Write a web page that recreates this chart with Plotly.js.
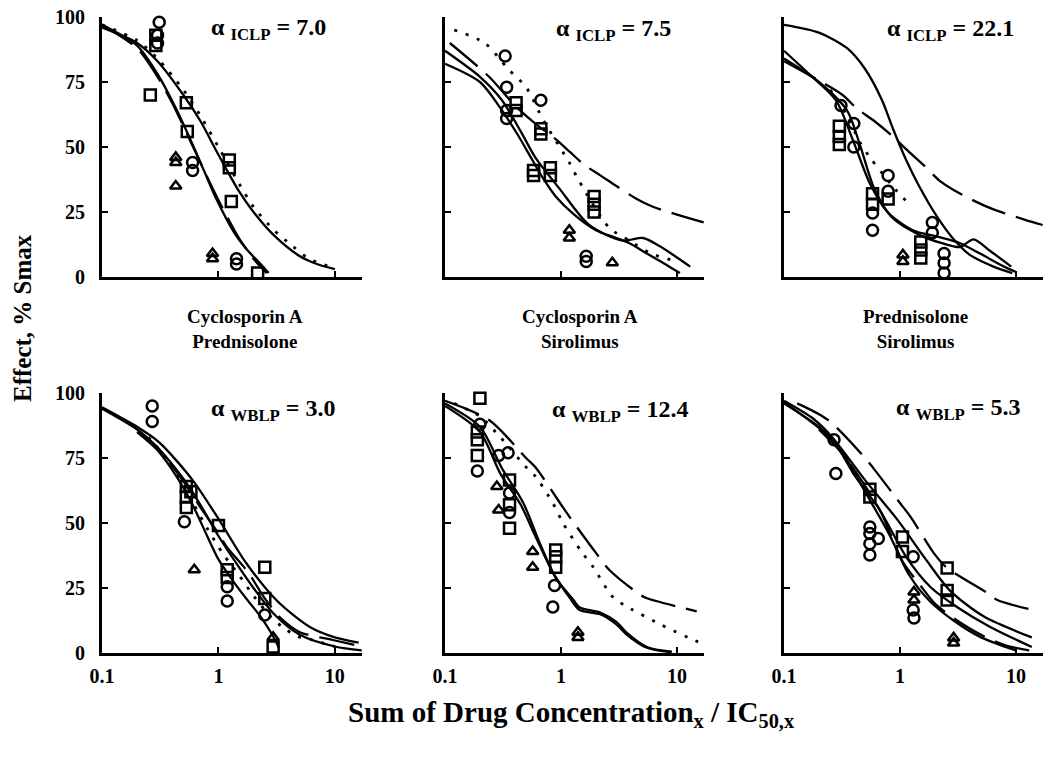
<!DOCTYPE html>
<html>
<head>
<meta charset="utf-8">
<script src="https://cdn.plot.ly/plotly-3.0.1.min.js"></script>
<style>html,body{margin:0;padding:0;background:#fff;}#chart{width:1050px;height:765px;}</style>
</head>
<body>
<div id="chart"></div>
<script>
// ---------------- DATA ----------------
const xTickVals = [0.1, 1, 10];
const xTickText = ['0.1', '1', '10'];
const yTickVals = [0, 25, 50, 75, 100];
const yTickText = ['0', '25', '50', '75', '100'];
const pairLabels = [['Cyclosporin A', 'Prednisolone'], ['Cyclosporin A', 'Sirolimus'], ['Prednisolone', 'Sirolimus']];
const alphaSub = ['ICLP', 'ICLP', 'ICLP', 'WBLP', 'WBLP', 'WBLP'];
const alphaVal = ['7.0', '7.5', '22.1', '3.0', '12.4', '5.3'];
const yTitle = 'Effect, % Smax';

// Panel 1: Cyclosporin A + Prednisolone, ICLP
const p1_solidA_x = [0.1, 0.2, 0.3, 0.5, 0.7, 1, 1.5, 2, 3, 5, 7, 10];
const p1_solidA_y = [96, 90, 83, 70, 60, 47, 33, 25, 16, 8, 5, 3];
const p1_dot_x = [0.1, 0.2, 0.3, 0.5, 0.7, 1, 1.5, 2, 3, 4.3, 6, 9];
const p1_dot_y = [97, 91, 84, 72, 62, 50, 36, 27, 18, 12, 7, 4];
const p1_solidB_x = [0.1, 0.2, 0.31, 0.43, 0.6, 0.75, 0.96, 1.37, 1.8, 2.3, 2.7];
const p1_solidB_y = [97, 89, 77, 65, 51, 41, 30, 17, 10, 5, 1.5];
const p1_dash_x = [0.1, 0.2, 0.3, 0.4, 0.55, 0.7, 0.85, 1.1, 1.5, 2, 2.6];
const p1_dash_y = [97, 88, 77, 67, 54, 44, 36, 26, 15, 7, 1.5];
const p1_circ_x = [0.31, 0.3, 0.3, 0.6, 0.6, 1.43, 1.43];
const p1_circ_y = [98, 93, 90, 44, 41, 7, 5];
const p1_sq_x = [0.29, 0.29, 0.26, 0.53, 0.54, 1.24, 1.24, 1.29, 2.17];
const p1_sq_y = [93, 89, 70, 67, 56, 45, 42, 29, 1.5];
const p1_tri_x = [0.43, 0.43, 0.43, 0.89, 0.89];
const p1_tri_y = [46, 44, 35, 9, 7];

// Panel 2: Cyclosporin A + Sirolimus, ICLP
const p2_solidA_x = [0.1, 0.2, 0.31, 0.45, 0.6, 0.97, 1.75, 3.4, 5.1, 7, 10, 13];
const p2_solidA_y = [87, 77, 68, 56, 46, 34, 20, 14, 15, 12, 7.5, 4];
const p2_solidB_x = [0.1, 0.2, 0.3, 0.42, 0.55, 0.7, 0.9, 1.3, 2, 3, 3.9, 5.5, 7.6, 10.6];
const p2_solidB_y = [82, 75, 65, 55, 46, 38, 31, 24, 18, 15, 13, 9, 5.4, 1.5];
const p2_dash_x = [0.11, 0.24, 0.4, 0.6, 0.9, 1.2, 1.6, 2.2, 3, 4.5, 6.2, 10, 17];
const p2_dash_y = [90, 77, 66, 59, 53, 48, 43, 39, 35, 30, 27, 24, 21];
const p2_dot_x = [0.12, 0.22, 0.35, 0.5, 0.71, 1.18, 1.43, 2.6, 3.9, 6, 10];
const p2_dot_y = [95, 90, 80, 73, 60, 44, 37, 19, 14, 9, 6];
const p2_circ_x = [0.33, 0.34, 0.34, 0.34, 0.67, 1.65, 1.65];
const p2_circ_y = [85, 73, 64, 61, 68, 8, 6];
const p2_sq_x = [0.41, 0.41, 0.67, 0.67, 0.58, 0.58, 0.81, 0.81, 1.93, 1.93, 1.93];
const p2_sq_y = [67, 64, 57, 55, 41, 39, 42, 39, 31, 28, 25];
const p2_tri_x = [1.18, 1.18, 2.77];
const p2_tri_y = [18, 15, 5.5];

// Panel 3: Prednisolone + Sirolimus, ICLP
const p3_solidA_x = [0.1, 0.2, 0.35, 0.5, 0.7, 0.87, 1.13, 1.46, 2.1, 2.9, 4, 6.4, 9.3];
const p3_solidA_y = [97, 94, 88, 80, 68, 57, 45, 35, 23, 14.5, 8.5, 4, 1.5];
const p3_solidB_x = [0.1, 0.165, 0.28, 0.39, 0.55, 0.78, 1.29, 2.1, 3.3, 4.9, 7.9, 9.9];
const p3_solidB_y = [87, 78, 68, 53, 36, 25, 18, 15.5, 13, 9, 4, 2];
const p3_solidC_x = [0.1, 0.2, 0.35, 0.45, 0.6, 0.85, 1.5, 2.3, 3.3, 4.3, 6, 9.1];
const p3_solidC_y = [84, 75, 64, 51, 34, 23, 16, 13, 11.5, 14.5, 10, 4];
const p3_dash_x = [0.1, 0.16, 0.32, 0.42, 0.6, 0.87, 1.14, 1.6, 2.2, 2.9, 4.5, 6.4, 7.9, 12, 17];
const p3_dash_y = [83, 78, 70, 65, 60, 54, 49, 43, 37, 33.5, 29, 26, 24.6, 22, 20];
const p3_dot_x = [0.25, 0.35, 0.45, 0.55, 0.7, 0.9, 1.2];
const p3_dot_y = [72, 62, 52, 46, 40, 34, 28];
const p3_circ_x = [0.31, 0.4, 0.4, 0.79, 0.79, 0.58, 0.58, 1.9, 1.9, 2.4, 2.4, 2.4];
const p3_circ_y = [66, 59, 50, 39, 33, 24.6, 18, 21, 17, 9, 5.4, 1.5];
const p3_sq_x = [0.3, 0.3, 0.3, 0.79, 0.58, 0.58, 1.51, 1.51, 1.51];
const p3_sq_y = [58, 54, 51, 30, 32, 28, 13.5, 10.4, 7.3];
const p3_tri_x = [1.06, 1.06];
const p3_tri_y = [8.5, 6];

// Panel 4: Cyclosporin A + Prednisolone, WBLP
const p4_solidA_x = [0.1, 0.2, 0.31, 0.6, 1.02, 1.73, 3.2, 6.1, 10, 16];
const p4_solidA_y = [94.5, 87, 81, 66.5, 51, 34.6, 20, 10, 6, 4];
const p4_solidB_x = [0.1, 0.2, 0.3, 0.5, 0.7, 1, 1.5, 2, 3, 5, 10, 17];
const p4_solidB_y = [94, 86, 79, 67, 57, 45, 33, 25, 15, 7, 2.5, 1];
const p4_solidC_x = [0.2, 0.3, 0.45, 0.6, 0.8, 1, 1.37, 1.8, 2.3, 2.9, 3.3];
const p4_solidC_y = [85, 78, 67, 57, 45, 36, 27, 20, 14, 7, 2];
const p4_dash_x = [0.2, 0.3, 0.5, 0.7, 1, 1.17, 1.8, 2.5, 3.5, 5, 9.6, 15];
const p4_dash_y = [86, 79, 66, 56, 46, 41, 31, 21, 13, 8, 5, 3];
const p4_dot_x = [0.25, 0.4, 0.6, 0.8, 1.1, 1.5, 2, 2.8, 3.55, 4.7, 6.4, 10];
const p4_dot_y = [83, 72, 58, 48, 38, 30, 22, 14, 10, 6.5, 5, 2.5];
const p4_circ_x = [0.27, 0.27, 0.51, 1.19, 1.19, 2.5];
const p4_circ_y = [95, 89, 50.5, 25.5, 20, 14.6];
const p4_sq_x = [0.53, 0.53, 0.53, 0.58, 1.0, 1.19, 1.19, 2.5, 2.5, 2.95];
const p4_sq_y = [64, 60, 56, 62, 49, 32, 29, 33, 21, 2.3];
const p4_tri_x = [0.62, 2.95];
const p4_tri_y = [32, 6];

// Panel 5: Cyclosporin A + Sirolimus, WBLP
const p5_solidA_x = [0.1, 0.2, 0.31, 0.47, 0.66, 0.9, 1.28, 1.45, 2.2, 3, 3.7, 5.5, 9];
const p5_solidA_y = [96, 87, 71, 58, 42, 29, 20.4, 17.5, 15.5, 12, 7.7, 2.3, 0.5];
const p5_solidB_x = [0.1, 0.2, 0.3, 0.45, 0.6, 0.85, 1.2, 1.45, 2.2, 3, 3.7, 5.5, 9];
const p5_solidB_y = [95, 85, 69, 57, 45, 31, 21, 16.5, 14.8, 11, 7, 2, 0.3];
const p5_dash_x = [0.1, 0.24, 0.5, 0.6, 1.04, 1.2, 2, 2.6, 5.2, 6.6, 14.8];
const p5_dash_y = [97, 89.6, 75, 71.5, 56, 52, 38.5, 32, 21.5, 20, 16];
const p5_dot_x = [0.12, 0.2, 0.3, 0.5, 0.6, 0.85, 1.04, 1.5, 1.9, 2.8, 4, 7.2, 9.4, 12.7, 17.8];
const p5_dot_y = [96, 91, 83, 71.5, 68, 57.7, 50, 39, 33, 21.5, 17, 11, 8.5, 5.8, 3];
const p5_circ_x = [0.2, 0.19, 0.29, 0.35, 0.36, 0.36, 0.88, 0.85];
const p5_circ_y = [88, 70, 76, 77, 61.5, 54, 26, 17.7];
const p5_sq_x = [0.2, 0.19, 0.19, 0.19, 0.36, 0.36, 0.36, 0.9, 0.9, 0.9];
const p5_sq_y = [98, 85, 82, 76, 66.5, 57, 48, 39.6, 37, 33];
const p5_tri_x = [0.28, 0.29, 0.57, 0.57, 1.4, 1.4];
const p5_tri_y = [64, 55, 39, 33, 8, 6];

// Panel 6: Prednisolone + Sirolimus, WBLP
const p6_solidA_x = [0.1, 0.18, 0.26, 0.5, 0.96, 1.67, 2.7, 5.3, 13.7];
const p6_solidA_y = [97, 90, 83, 66.5, 51, 36, 24, 14, 6];
const p6_solidB_x = [0.1, 0.26, 0.41, 0.67, 1.13, 1.83, 3.1, 6, 13.7];
const p6_solidB_y = [96.5, 82, 68, 55, 37, 25.4, 17.7, 10, 2.3];
const p6_solidC_x = [0.1, 0.2, 0.3, 0.5, 0.8, 1.2, 1.8, 3, 5, 10];
const p6_solidC_y = [96, 87, 79, 62, 46, 30, 20, 12, 6, 1];
const p6_dashA_x = [0.13, 0.24, 0.5, 0.58, 1, 1.25, 1.95, 2.5, 5.7, 6.9, 15.6];
const p6_dashA_y = [96, 89.6, 75, 71.5, 57.7, 52, 38.5, 33, 23, 20.4, 16];
const p6_dashB_x = [0.2, 0.3, 0.41, 0.67, 1.06, 1.5, 2, 3, 5, 8, 13];
const p6_dashB_y = [86, 78, 70, 55, 35, 26, 19, 13, 7, 3, 1];
const p6_circ_x = [0.27, 0.28, 0.55, 0.55, 0.55, 0.55, 0.65, 1.3, 1.3, 1.32];
const p6_circ_y = [82, 69, 48.5, 46, 42, 37.7, 44, 37, 16.5, 13.5];
const p6_sq_x = [0.55, 0.55, 1.05, 1.05, 2.55, 2.55, 2.55];
const p6_sq_y = [63, 60, 44.6, 39, 32.7, 24, 20.4];
const p6_tri_x = [1.32, 1.32, 2.9, 2.9];
const p6_tri_y = [23.5, 20.4, 5.8, 3.8];

// ---------------- STYLE ----------------
const FONT = 'Liberation Serif';
const W = 1050, H = 765;
const STYLE = {
  solid: {dash: 'solid', width: 2.3},
  dash: {dash: '36px,11px', width: 2.3},
  dot: {dash: '3px,9px', width: 2.8}
};
const SYM = {circ: 'circle-open', sq: 'square-open', tri: 'triangle-up-open'};

// pixel -> paper helpers (layout only)
const px = v => v / W;
const py = v => 1 - v / H;
const colPx = [[102, 362], [445, 704], [784, 1043]];
const rowPx = [[17, 277], [393, 653]];

const panels = [
  {lines: [[p1_solidA_x, p1_solidA_y, 'solid'], [p1_dot_x, p1_dot_y, 'dot'], [p1_solidB_x, p1_solidB_y, 'solid'], [p1_dash_x, p1_dash_y, 'dash']],
   marks: [[p1_circ_x, p1_circ_y, 'circ'], [p1_sq_x, p1_sq_y, 'sq'], [p1_tri_x, p1_tri_y, 'tri']]},
  {lines: [[p2_solidA_x, p2_solidA_y, 'solid'], [p2_solidB_x, p2_solidB_y, 'solid'], [p2_dash_x, p2_dash_y, 'dash'], [p2_dot_x, p2_dot_y, 'dot']],
   marks: [[p2_circ_x, p2_circ_y, 'circ'], [p2_sq_x, p2_sq_y, 'sq'], [p2_tri_x, p2_tri_y, 'tri']]},
  {lines: [[p3_solidA_x, p3_solidA_y, 'solid'], [p3_solidB_x, p3_solidB_y, 'solid'], [p3_solidC_x, p3_solidC_y, 'solid'], [p3_dash_x, p3_dash_y, 'dash'], [p3_dot_x, p3_dot_y, 'dot']],
   marks: [[p3_circ_x, p3_circ_y, 'circ'], [p3_sq_x, p3_sq_y, 'sq'], [p3_tri_x, p3_tri_y, 'tri']]},
  {lines: [[p4_solidA_x, p4_solidA_y, 'solid'], [p4_solidB_x, p4_solidB_y, 'solid'], [p4_solidC_x, p4_solidC_y, 'solid'], [p4_dash_x, p4_dash_y, 'dash'], [p4_dot_x, p4_dot_y, 'dot']],
   marks: [[p4_circ_x, p4_circ_y, 'circ'], [p4_sq_x, p4_sq_y, 'sq'], [p4_tri_x, p4_tri_y, 'tri']]},
  {lines: [[p5_solidA_x, p5_solidA_y, 'solid'], [p5_solidB_x, p5_solidB_y, 'solid'], [p5_dash_x, p5_dash_y, 'dash'], [p5_dot_x, p5_dot_y, 'dot']],
   marks: [[p5_circ_x, p5_circ_y, 'circ'], [p5_sq_x, p5_sq_y, 'sq'], [p5_tri_x, p5_tri_y, 'tri']]},
  {lines: [[p6_solidA_x, p6_solidA_y, 'solid'], [p6_solidB_x, p6_solidB_y, 'solid'], [p6_solidC_x, p6_solidC_y, 'solid'], [p6_dashA_x, p6_dashA_y, 'dash'], [p6_dashB_x, p6_dashB_y, 'dash']],
   marks: [[p6_circ_x, p6_circ_y, 'circ'], [p6_sq_x, p6_sq_y, 'sq'], [p6_tri_x, p6_tri_y, 'tri']]}
];

const traces = [];
const layout = {
  width: W, height: H,
  margin: {l: 0, r: 0, t: 0, b: 0},
  paper_bgcolor: '#fff', plot_bgcolor: 'rgba(0,0,0,0)',
  showlegend: false,
  font: {family: FONT, color: '#000'},
  annotations: []
};

panels.forEach((p, i) => {
  const n = i + 1;
  const suf = n === 1 ? '' : String(n);
  const row = i < 3 ? 0 : 1;
  const col = i % 3;
  p.lines.forEach(([xs, ys, st]) => {
    traces.push({
      type: 'scatter', mode: 'lines', x: xs, y: ys,
      xaxis: 'x' + suf, yaxis: 'y' + suf, hoverinfo: 'skip',
      line: {color: '#000', width: STYLE[st].width, dash: STYLE[st].dash, shape: 'spline', smoothing: 0.8}
    });
  });
  p.marks.forEach(([xs, ys, s]) => {
    traces.push({
      type: 'scatter', mode: 'markers', x: xs, y: ys,
      xaxis: 'x' + suf, yaxis: 'y' + suf, hoverinfo: 'skip', cliponaxis: false,
      marker: {symbol: SYM[s], size: s === 'tri' ? 10 : 11, color: '#000', line: {width: 2.5, color: '#000'}}
    });
  });
  layout['xaxis' + suf] = {
    type: 'log', range: [-1, 1.233],
    domain: [px(colPx[col][0]), px(colPx[col][1])],
    anchor: 'y' + suf,
    showline: true, linewidth: 3, linecolor: '#000', mirror: false,
    showgrid: false, zeroline: false,
    ticks: 'inside', ticklen: 6, tickwidth: 2, tickcolor: '#000',
    tickvals: xTickVals, ticktext: xTickText,
    showticklabels: row === 1,
    ticklabelstandoff: 3,
    tickfont: {family: FONT, size: 20, weight: 'bold', color: '#000'}
  };
  layout['yaxis' + suf] = {
    range: [0, 100],
    domain: [py(rowPx[row][1]), py(rowPx[row][0])],
    anchor: 'x' + suf,
    showline: true, linewidth: 3, linecolor: '#000',
    showgrid: false, zeroline: false,
    ticks: 'inside', ticklen: 6, tickwidth: 2, tickcolor: '#000',
    tickvals: yTickVals, ticktext: yTickText,
    showticklabels: col === 0,
    ticklabelstandoff: 10,
    tickfont: {family: FONT, size: 20, weight: 'bold', color: '#000'}
  };
});

// alpha annotations
const alphaPos = [[268, 29], [613, 30], [950, 30], [273, 410], [620, 411], [958, 409]];
alphaVal.forEach((v, i) => {
  layout.annotations.push({
    xref: 'paper', yref: 'paper', x: px(alphaPos[i][0]), y: py(alphaPos[i][1]),
    xanchor: 'center', yanchor: 'middle', showarrow: false,
    text: 'α <sub>' + alphaSub[i] + '</sub> = ' + v,
    font: {family: FONT, size: 24, weight: 'bold', color: '#000'}
  });
});

// pair labels between rows
const pairX = [245, 580, 915];
pairLabels.forEach((lab, i) => {
  layout.annotations.push({
    xref: 'paper', yref: 'paper', x: px(pairX[i]), y: py(329),
    xanchor: 'center', yanchor: 'middle', showarrow: false,
    text: lab[0] + '<br>' + lab[1],
    font: {family: FONT, size: 19, weight: 'bold', color: '#000'}
  });
});

// axis titles
layout.annotations.push({
  xref: 'paper', yref: 'paper', x: px(22), y: py(318),
  xanchor: 'center', yanchor: 'middle', showarrow: false, textangle: -90,
  text: yTitle,
  font: {family: FONT, size: 25, weight: 'bold', color: '#000'}
});
layout.annotations.push({
  xref: 'paper', yref: 'paper', x: px(571), y: py(714),
  xanchor: 'center', yanchor: 'middle', showarrow: false,
  text: 'Sum of Drug Concentration<sub>x</sub> / IC<sub>50,x</sub>',
  font: {family: FONT, size: 29, weight: 'bold', color: '#000'}
});

Plotly.newPlot('chart', traces, layout, {staticPlot: true, displayModeBar: false});
</script>
</body>
</html>
